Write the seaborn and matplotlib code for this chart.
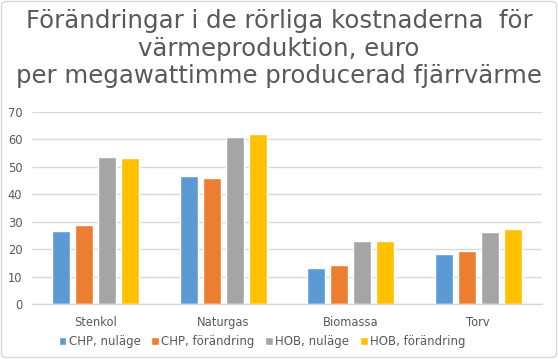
import matplotlib
matplotlib.use("Agg")
import matplotlib.pyplot as plt
import seaborn as sns
import pandas as pd
from matplotlib.patches import FancyBboxPatch

categories = ["Stenkol", "Naturgas", "Biomassa", "Torv"]
series = ["CHP, nuläge", "CHP, förändring", "HOB, nuläge", "HOB, förändring"]
chp_nu = [26.7, 46.8, 13.2, 18.3]
chp_for = [28.9, 46.0, 14.3, 19.4]
hob_nu = [53.7, 61.0, 23.0, 26.3]
hob_for = [53.3, 62.1, 23.0, 27.4]
colors = ["#5B9BD5", "#ED7D31", "#A5A5A5", "#FFC000"]
title_lines = ["Förändringar i de rörliga kostnaderna  för",
               "värmeproduktion, euro",
               "per megawattimme producerad fjärrvärme"]

rows = []
for s, vals in zip(series, [chp_nu, chp_for, hob_nu, hob_for]):
    for c, v in zip(categories, vals):
        rows.append({"cat": c, "series": s, "val": v})
df = pd.DataFrame(rows)

sns.set_theme(style="white")
plt.rcParams['font.family'] = ['DejaVu Sans']
txt = "#595959"

fig = plt.figure(figsize=(5.58, 3.59), dpi=100)
ax = fig.add_axes([32/558, 1-304/359, 510/558, 192/359])
sns.barplot(data=df, x="cat", y="val", hue="series", order=categories,
            hue_order=series, palette=colors, width=0.72, gap=0.22,
            saturation=1, ax=ax, legend=True)
ax.set_ylim(0, 70)
ax.set_yticks(range(0, 71, 10))
ax.set_xlim(-0.5, 3.5)
ax.yaxis.grid(True, color="#D9D9D9", linewidth=1)
ax.set_axisbelow(True)
for sp in ["top", "right", "left"]:
    ax.spines[sp].set_visible(False)
ax.spines["bottom"].set_color("#D9D9D9")
ax.spines["bottom"].set_linewidth(1)
ax.set_xlabel("")
ax.set_ylabel("")
ax.tick_params(axis="both", colors=txt, labelsize=8.3, length=0)
ax.tick_params(axis="x", pad=16)
ax.tick_params(axis="y", pad=7)
for lbl in ax.get_xticklabels():
    lbl.set_verticalalignment("baseline")

h, l = ax.get_legend_handles_labels()
ax.get_legend().remove()
fig.legend(h, l, loc="center", bbox_to_anchor=(262/558, 1-342/359), ncol=4,
           frameon=False, fontsize=8.5, labelcolor=txt, handlelength=0.65,
           handleheight=0.65, handletextpad=0.2, columnspacing=0.9)

for i, line in enumerate(title_lines):
    fig.text(0.5, 1-(28 + 27.6*i)/359, line, ha="center", va="baseline",
             fontsize=17.6, color=txt)

border = FancyBboxPatch((1.5/558, 1.5/359), 1-3/558, 1-3/359,
                        boxstyle="round,pad=0,rounding_size=0.01",
                        transform=fig.transFigure, fill=False,
                        edgecolor="#D9D9D9", linewidth=1)
fig.patches.append(border)

fig.savefig("out.png", dpi=100)
